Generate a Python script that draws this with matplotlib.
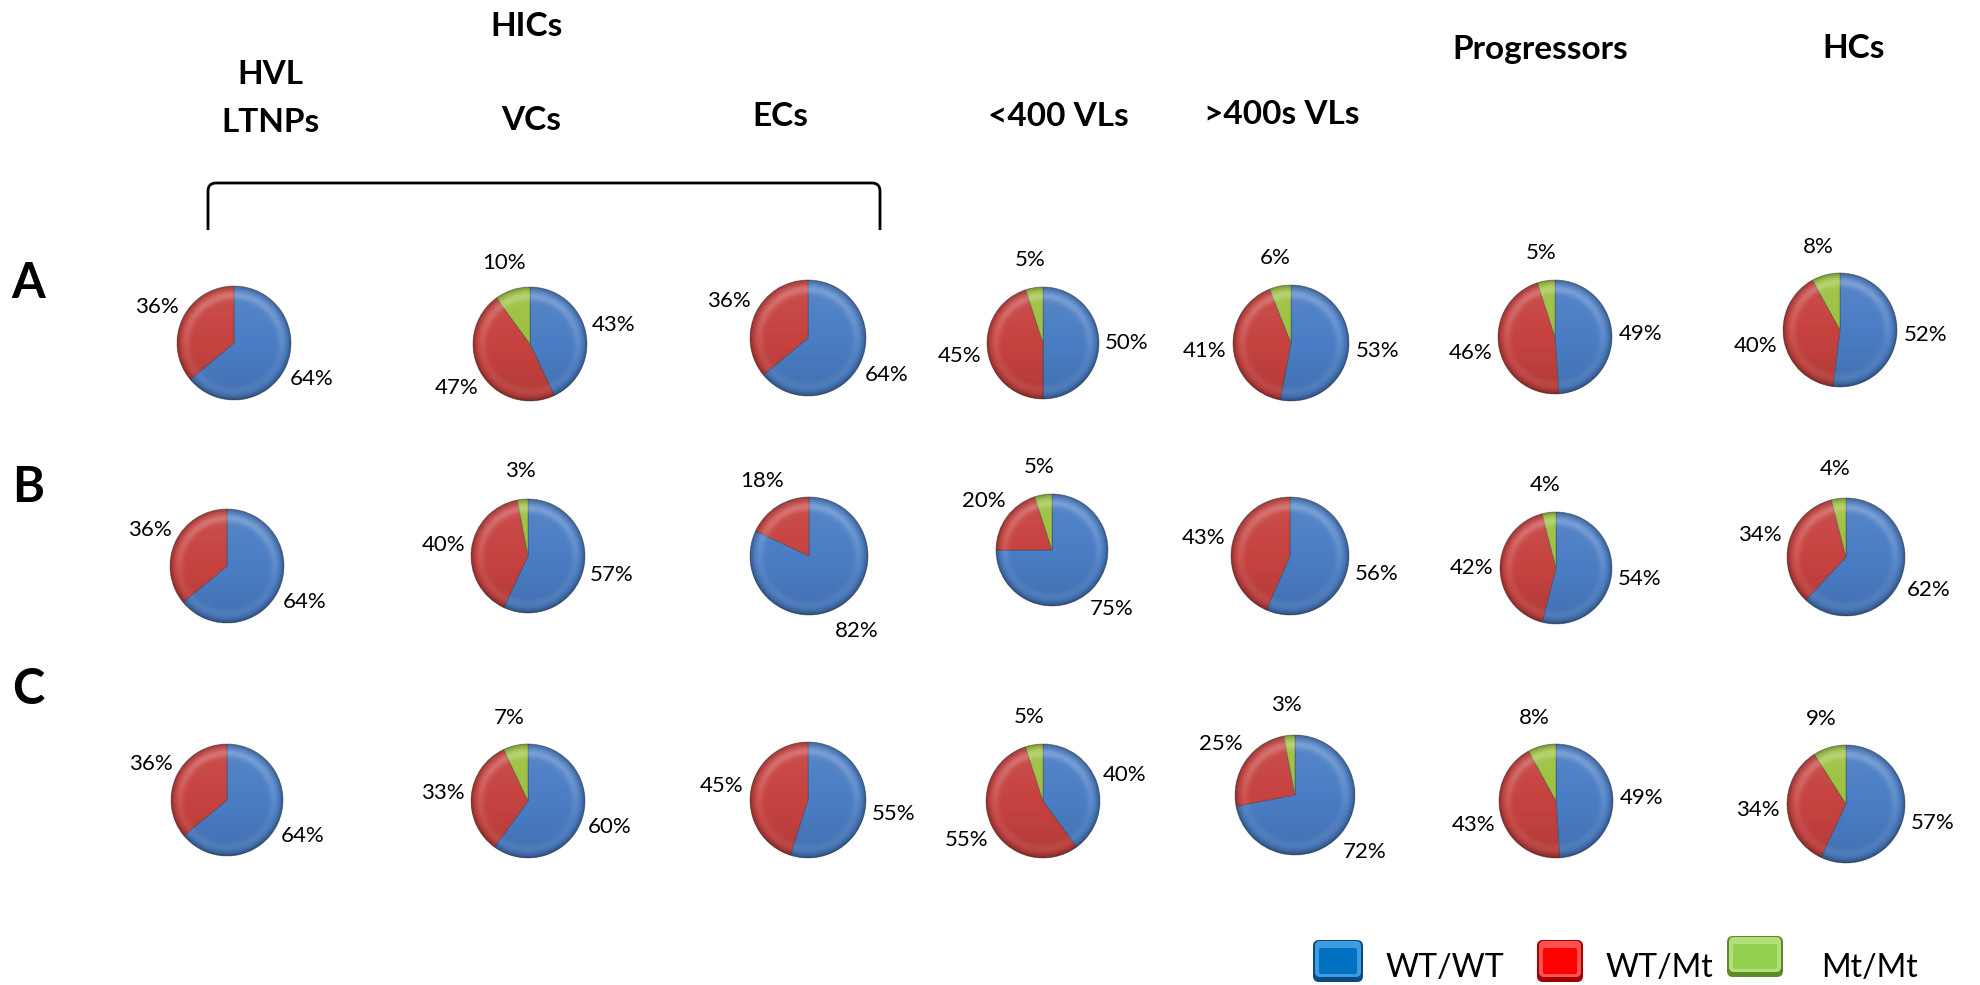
import numpy as np
import matplotlib
matplotlib.use("Agg")
import matplotlib.pyplot as plt
from matplotlib.patches import Circle, FancyBboxPatch
from matplotlib.path import Path
from matplotlib.patches import PathPatch

# ---------------- data ----------------
genotypes = ["WT/WT", "WT/Mt", "Mt/Mt"]
row_labels = ["A", "B", "C"]
group_names = ["HVL\nLTNPs", "VCs", "ECs", "<400 VLs", ">400s VLs", "Progressors", "HCs"]

wt_wt_A = [64, 43, 64, 50, 53, 49, 52]
wt_mt_A = [36, 47, 36, 45, 41, 46, 40]
mt_mt_A = [0, 10, 0, 5, 6, 5, 8]

wt_wt_B = [64, 57, 82, 75, 56, 54, 62]
wt_mt_B = [36, 40, 18, 20, 43, 42, 34]
mt_mt_B = [0, 3, 0, 5, 0, 4, 4]

wt_wt_C = [64, 60, 55, 40, 72, 49, 57]
wt_mt_C = [36, 33, 45, 55, 25, 43, 34]
mt_mt_C = [0, 7, 0, 5, 3, 8, 9]

# ---------------- layout (pixels from top-left) ----------------
W, H = 1980, 985
pie_centers = [
    [(234, 343), (530, 344), (808, 338), (1043, 343), (1291, 343), (1555, 337), (1840, 330)],
    [(227, 566), (528, 556), (809, 556), (1052, 550), (1290, 556), (1556, 568), (1846, 557)],
    [(227, 800), (528, 801), (808, 800), (1043, 801), (1295, 795), (1556, 801), (1846, 804)],
]
pie_radii = [
    [57, 57, 58, 56, 58, 57, 57],
    [57, 57, 59, 56, 59, 56, 59],
    [56, 57, 58, 57, 60, 57, 59],
]
pie_colors = ["#4A7DC4", "#C6423F", "#9CC13F"]
legend_colors = ["#0070C0", "#FF0000", "#92D050"]
legend_dark = ["#0B4A80", "#A00000", "#5E8A2A"]
legend_light = ["#3D9BE0", "#FF5050", "#B4E07A"]

plt.rcParams["font.family"] = ["Lato", "DejaVu Sans"]

fig = plt.figure(figsize=(W / 100, H / 100), dpi=100)
fig.patch.set_facecolor("white")
ax = fig.add_axes([0, 0, 1, 1])


def Y(y):
    return H - y


# shading overlay used to give each pie a bevelled look
N = 240
u, v = np.meshgrid(np.linspace(-1, 1, N), np.linspace(-1, 1, N))
rr = np.sqrt(u ** 2 + v ** 2)
dark = np.zeros((N, N, 4))
dark[..., 3] = np.clip((rr - 0.88) / 0.12, 0, 1) ** 2 * 0.30 + np.clip(-v, 0, 1) * 0.10
light = np.ones((N, N, 4))
light[..., 3] = (np.exp(-((rr - 0.84) / 0.07) ** 2) * 0.20 * (0.35 + 0.65 * np.clip(v + 0.3, 0, 1))
                 + np.clip(v, 0, 1) * 0.08)

all_series = [
    (wt_wt_A, wt_mt_A, mt_mt_A),
    (wt_wt_B, wt_mt_B, mt_mt_B),
    (wt_wt_C, wt_mt_C, mt_mt_C),
]

for ri, (s_wt, s_het, s_mt) in enumerate(all_series):
    for gi in range(len(group_names)):
        vals = [s_wt[gi], s_het[gi], s_mt[gi]]
        keep = [k for k, val in enumerate(vals) if val > 0]
        pv = [vals[k] for k in keep]
        pc = [pie_colors[k] for k in keep]
        cx, cy = pie_centers[ri][gi]
        r = pie_radii[ri][gi]
        wedges, _ = ax.pie(pv, colors=pc, startangle=90, counterclock=False,
                           radius=r, center=(cx, Y(cy)), frame=True,
                           wedgeprops=dict(edgecolor=(0.2, 0.2, 0.2, 0.45), linewidth=0.6))
        ext = (cx - r, cx + r, Y(cy) - r, Y(cy) + r)
        clip = Circle((cx, Y(cy)), r, transform=ax.transData)
        for img in (dark, light):
            im = ax.imshow(img, extent=ext, origin="lower", interpolation="bilinear", zorder=3)
            im.set_clip_path(clip)
        for w, val in zip(wedges, pv):
            mid = np.deg2rad((w.theta1 + w.theta2) / 2)
            ax.text(cx + 1.5 * r * np.cos(mid), Y(cy) + 1.5 * r * np.sin(mid), f"{val}%",
                    ha="center", va="center", fontsize=16, color="black", zorder=5)

# column headers
hdr = dict(fontsize=24, fontweight="bold", ha="center", va="center")
ax.text(527, Y(27), "HICs", **hdr)
ax.text(270, Y(74), "HVL", **hdr)
ax.text(270, Y(122), "LTNPs", **hdr)
ax.text(531, Y(120), "VCs", **hdr)
ax.text(780, Y(116), "ECs", **hdr)
ax.text(1058, Y(116), "<400 VLs", **hdr)
ax.text(1282, Y(114), ">400s VLs", **hdr)
ax.text(1540, Y(50), "Progressors", **hdr)
ax.text(1854, Y(48), "HCs", **hdr)

# bracket grouping the HIC columns
x0, x1, yt, yb, rc = 208, 880, 183, 230, 8
verts = [(x0, Y(yb)), (x0, Y(yt + rc)), (x0, Y(yt)), (x0 + rc, Y(yt)),
         (x1 - rc, Y(yt)), (x1, Y(yt)), (x1, Y(yt + rc)), (x1, Y(yb))]
codes = [Path.MOVETO, Path.LINETO, Path.CURVE3, Path.CURVE3,
         Path.LINETO, Path.CURVE3, Path.CURVE3, Path.LINETO]
ax.add_patch(PathPatch(Path(verts, codes), fill=False, lw=2.0, edgecolor="black"))

# row letters
for lab, y in zip(row_labels, [284, 487, 690]):
    ax.text(28, Y(y), lab, fontsize=35, fontweight="bold", ha="center", va="center")

# legend with bevelled swatches
legend_boxes = [(1313, 940, 50, 42), (1537, 940, 46, 42), (1727, 936, 56, 41)]
legend_text_x = [1385, 1606, 1821]
for k, name in enumerate(genotypes):
    bx, by, bw, bh = legend_boxes[k]
    ax.add_patch(FancyBboxPatch((bx, Y(by + bh)), bw, bh, boxstyle="round,pad=0,rounding_size=6",
                                facecolor=legend_dark[k], edgecolor="none", zorder=3))
    ax.add_patch(FancyBboxPatch((bx + 2, Y(by + bh) + 5), bw - 4, bh - 6,
                                boxstyle="round,pad=0,rounding_size=5",
                                facecolor=legend_light[k], edgecolor="none", zorder=4))
    ax.add_patch(FancyBboxPatch((bx + 6, Y(by + bh) + 8), bw - 12, bh - 16,
                                boxstyle="round,pad=0,rounding_size=2",
                                facecolor=legend_colors[k], edgecolor="none", zorder=5))
    ax.text(legend_text_x[k], Y(968), name, fontsize=23, ha="left", va="center")

ax.set_xlim(0, W)
ax.set_ylim(0, H)
ax.set_aspect("equal")
ax.axis("off")

fig.savefig("out.png", dpi=100, facecolor="white")
